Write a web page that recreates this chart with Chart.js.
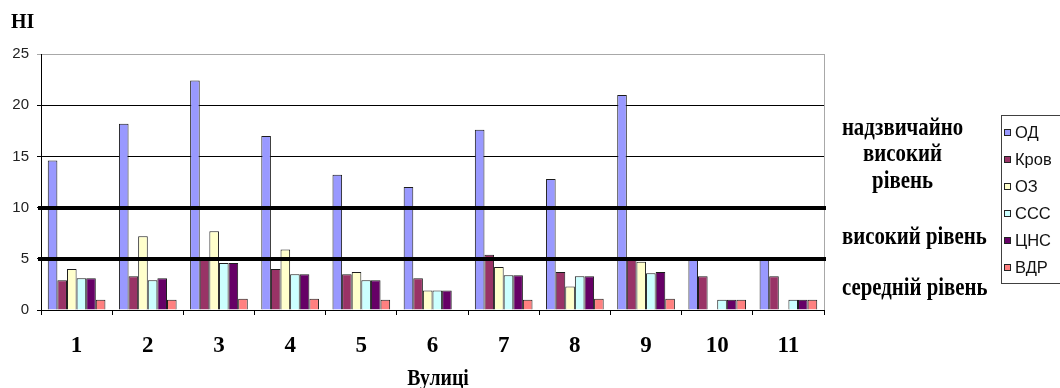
<!DOCTYPE html>
<html>
<head>
<meta charset="utf-8">
<script src="https://cdn.jsdelivr.net/npm/chart.js@4/dist/chart.umd.min.js"></script>
<style>
  html, body { margin: 0; padding: 0; background: #fff; }
  #wrap { width: 1060px; height: 388px; position: relative; }
</style>
</head>
<body>
<div id="wrap"><canvas id="c" width="1060" height="388"></canvas></div>
<script>
// Streets (categories) and indicator values per street
const categories = ['1', '2', '3', '4', '5', '6', '7', '8', '9', '10', '11'];
const seriesNames = ['ОД', 'Кров', 'ОЗ', 'ССС', 'ЦНС', 'ВДР'];
const od   = [14.6, 18.2, 22.4, 17.0, 13.2, 12.0, 17.6, 12.8, 21.0, 5.0, 5.0];
const krov = [2.9, 3.3, 5.0, 4.0, 3.5, 3.1, 5.4, 3.7, 5.0, 3.3, 3.3];
const oz   = [4.0, 7.2, 7.7, 5.9, 3.7, 1.9, 4.2, 2.3, 4.7, null, null];
const sss  = [3.1, 2.9, 4.6, 3.5, 2.9, 1.9, 3.4, 3.3, 3.6, 1.0, 1.0];
const tsns = [3.1, 3.1, 4.6, 3.5, 2.9, 1.9, 3.4, 3.3, 3.7, 1.0, 1.0];
const vdr  = [1.0, 1.0, 1.1, 1.1, 1.0, null, 1.0, 1.1, 1.1, 1.0, 1.0];
const yTickValues = [0, 5, 10, 15, 20, 25];
const levelLines = [5, 10];
const levelLabels = [['надзвичайно', 'високий', 'рівень'], ['високий рівень'], ['середній рівень']];
const yTitle = 'НІ';
const xTitle = 'Вулиці';

const seriesColors = ['#9999FF', '#993366', '#FFFFCC', '#CCFFFF', '#660066', '#FF8080'];
const seriesValues = [od, krov, oz, sss, tsns, vdr];

const serif = "'Liberation Serif', 'Times New Roman', serif";
const sans = "'Liberation Sans', Arial, sans-serif";

function scaledText(ctx, text, x, y, sx, align) {
  ctx.save();
  ctx.translate(x, y);
  ctx.scale(sx, 1);
  ctx.textAlign = align;
  ctx.fillText(text, 0, 0);
  ctx.restore();
}

const overlay = {
  id: 'overlay',
  beforeDatasetsDraw(chart) {
    const { ctx, chartArea: a } = chart;
    // light frame on the right side of the plot
    ctx.save();
    ctx.strokeStyle = '#a8a8a8';
    ctx.lineWidth = 1;
    ctx.beginPath();
    ctx.moveTo(a.right + 0.5, a.top);
    ctx.lineTo(a.right + 0.5, a.bottom);
    ctx.stroke();
    ctx.restore();
  },
  afterDatasetsDraw(chart) {
    const { ctx, chartArea: a, scales } = chart;
    // heavy level boundaries
    ctx.save();
    ctx.strokeStyle = '#000';
    ctx.lineWidth = 4;
    levelLines.forEach(v => {
      const y = Math.round(scales.y.getPixelForValue(v));
      ctx.beginPath();
      ctx.moveTo(a.left - 3, y);
      ctx.lineTo(a.right + 2, y);
      ctx.stroke();
    });
    ctx.restore();
  },
  afterDraw(chart) {
    const { ctx } = chart;
    ctx.save();
    ctx.fillStyle = '#000';
    ctx.textBaseline = 'alphabetic';

    // axis titles
    ctx.font = 'bold 21px ' + serif;
    scaledText(ctx, yTitle, 11, 28, 0.95, 'left');
    ctx.font = 'bold 23px ' + serif;
    scaledText(ctx, xTitle, 438, 385, 0.86, 'center');

    // level captions
    ctx.font = 'bold 26px ' + serif;
    const top = levelLabels[0];
    top.forEach((t, i) => scaledText(ctx, t, 902.5, 135 + i * 26.3, 0.8, 'center'));
    scaledText(ctx, levelLabels[1][0], 842, 244.3, 0.8, 'left');
    scaledText(ctx, levelLabels[2][0], 842, 295, 0.8, 'left');

    // legend
    ctx.strokeStyle = '#404040';
    ctx.lineWidth = 1;
    ctx.strokeRect(1001.5, 115.5, 70, 168);
    ctx.font = '17px ' + sans;
    ctx.textBaseline = 'middle';
    chart.data.datasets.forEach((ds, i) => {
      const cy = 132 + i * 27;
      ctx.fillStyle = ds.backgroundColor;
      ctx.fillRect(1004, cy - 3, 7, 7);
      ctx.strokeStyle = '#222';
      ctx.strokeRect(1004.5, cy - 2.5, 6, 6);
      ctx.fillStyle = '#111';
      scaledText(ctx, ds.label, 1015, cy + 1, 0.97, 'left');
    });
    ctx.restore();
  }
};

new Chart(document.getElementById('c'), {
  type: 'bar',
  data: {
    labels: categories,
    datasets: seriesNames.map((name, i) => ({
      label: name,
      data: seriesValues[i],
      backgroundColor: seriesColors[i],
      borderColor: '#1c1c1c',
      borderWidth: 1,
      categoryPercentage: 0.81,
      barPercentage: 1.0
    }))
  },
  options: {
    responsive: false,
    animation: false,
    events: [],
    layout: { padding: { top: 54, right: 236, left: 0, bottom: 0 } },
    plugins: { legend: { display: false }, tooltip: { enabled: false } },
    scales: {
      x: {
        afterFit(scale) { scale.height = 78; },
        grid: { drawOnChartArea: false, tickLength: 5, color: '#000', offset: true },
        border: { color: '#000', width: 1 },
        ticks: {
          color: '#000',
          padding: 17,
          maxRotation: 0,
          autoSkip: false,
          font: { family: serif, size: 23, weight: 'bold' }
        }
      },
      y: {
        min: 0,
        max: 25,
        afterFit(scale) { scale.width = 41; },
        afterBuildTicks(scale) { scale.ticks = yTickValues.map(v => ({ value: v })); },
        grid: {
          tickLength: 4,
          lineWidth: 1,
          color: ctx => (ctx.tick && ctx.tick.value === 25 ? '#a8a8a8' : '#000')
        },
        border: { color: '#000', width: 1 },
        ticks: {
          color: '#222',
          padding: 8,
          font: { family: sans, size: 15 }
        }
      }
    }
  },
  plugins: [overlay]
});
</script>
</body>
</html>
